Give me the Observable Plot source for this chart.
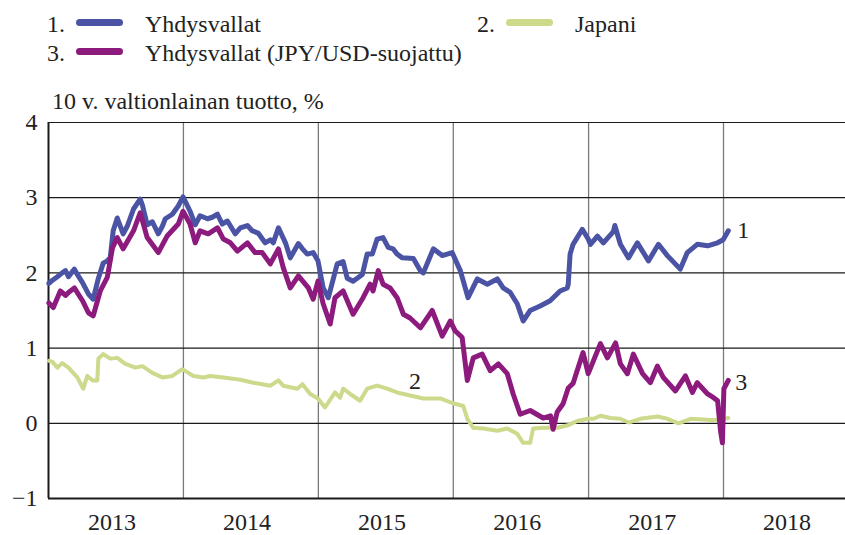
<!DOCTYPE html>
<html><head><meta charset="utf-8">
<script src="https://cdn.jsdelivr.net/npm/d3@7"></script>
<script src="https://cdn.jsdelivr.net/npm/@observablehq/plot@0.6"></script>
<style>
body{margin:0;background:#fff;font-family:"Liberation Serif",serif;color:#222}
#wrap{position:relative;width:845px;height:535px}
.lg{position:absolute;font-size:24px;line-height:1;white-space:nowrap}
.sw{position:absolute;height:7px;border-radius:4px}
#chart{position:absolute;left:0;top:110px}
</style></head><body>
<div id="wrap"><div id="legend"></div><div id="chart"></div></div>
<script>
// ---- data ----
const legendNums = ["1.", "2.", "3."];
const legendLabels = ["Yhdysvallat", "Japani", "Yhdysvallat (JPY/USD-suojattu)"];
const seriesColors = ["#4b54a4", "#cdd98b", "#8d1a7d"];
const yAxisTitle = "10 v. valtionlainan tuotto, %";
const yTicks = [-1, 0, 1, 2, 3, 4];
const years = [2013, 2014, 2015, 2016, 2017, 2018];

const usYield = [
["2013-01-02",1.86],["2013-01-11",1.90],["2013-01-25",1.95],["2013-02-07",2.00],["2013-02-16",2.03],["2013-02-24",1.95],["2013-03-12",2.05],["2013-03-20",1.98],["2013-04-03",1.87],["2013-04-19",1.72],["2013-05-02",1.65],["2013-05-16",1.93],["2013-05-29",2.13],["2013-06-09",2.16],["2013-06-17",2.20],["2013-06-25",2.56],["2013-07-06",2.73],["2013-07-22",2.52],["2013-08-02",2.62],["2013-08-19",2.85],["2013-09-06",2.98],["2013-09-12",2.90],["2013-09-25",2.64],["2013-10-09",2.68],["2013-10-25",2.52],["2013-11-05",2.62],["2013-11-13",2.72],["2013-12-02",2.78],["2013-12-18",2.89],["2013-12-31",3.01],
["2014-01-19",2.82],["2014-02-02",2.64],["2014-02-15",2.76],["2014-03-07",2.72],["2014-03-20",2.74],["2014-04-03",2.78],["2014-04-16",2.65],["2014-04-30",2.69],["2014-05-21",2.52],["2014-06-04",2.60],["2014-06-23",2.63],["2014-07-06",2.56],["2014-07-22",2.53],["2014-08-10",2.40],["2014-08-24",2.44],["2014-09-01",2.40],["2014-09-15",2.60],["2014-10-04",2.40],["2014-10-17",2.20],["2014-11-08",2.39],["2014-11-19",2.32],["2014-12-02",2.25],["2014-12-18",2.27],["2014-12-31",2.16],
["2015-01-14",1.80],["2015-01-28",1.67],["2015-02-21",2.12],["2015-03-09",2.15],["2015-03-20",1.93],["2015-04-05",1.89],["2015-04-30",1.98],["2015-05-13",2.25],["2015-05-27",2.25],["2015-06-09",2.45],["2015-06-25",2.47],["2015-07-09",2.34],["2015-07-22",2.32],["2015-08-02",2.25],["2015-08-16",2.20],["2015-09-15",2.19],["2015-10-04",2.03],["2015-10-12",2.00],["2015-11-08",2.32],["2015-12-02",2.23],["2015-12-29",2.27],
["2016-01-20",2.03],["2016-02-10",1.67],["2016-03-06",1.92],["2016-04-02",1.85],["2016-04-29",1.92],["2016-05-15",1.80],["2016-06-03",1.74],["2016-06-22",1.59],["2016-07-08",1.36],["2016-07-27",1.50],["2016-08-23",1.56],["2016-09-19",1.63],["2016-10-16",1.76],["2016-11-04",1.80],["2016-11-07",1.85],["2016-11-12",2.25],["2016-11-20",2.38],["2016-12-15",2.58],["2016-12-31",2.45],
["2017-01-06",2.38],["2017-01-25",2.49],["2017-02-10",2.40],["2017-03-09",2.55],["2017-03-13",2.63],["2017-03-28",2.38],["2017-04-19",2.20],["2017-05-13",2.40],["2017-06-12",2.16],["2017-07-09",2.38],["2017-08-02",2.23],["2017-09-06",2.05],["2017-09-25",2.27],["2017-10-22",2.38],["2017-11-19",2.36],["2017-12-16",2.40],["2017-12-31",2.44],["2018-01-14",2.56]
];

const jpYield = [
["2013-01-02",0.83],["2013-01-11",0.82],["2013-01-25",0.74],["2013-02-07",0.80],["2013-02-24",0.74],["2013-03-20",0.61],["2013-04-05",0.46],["2013-04-16",0.63],["2013-04-30",0.57],["2013-05-13",0.57],["2013-05-16",0.86],["2013-05-29",0.92],["2013-06-17",0.86],["2013-07-06",0.87],["2013-07-28",0.79],["2013-08-24",0.74],["2013-09-12",0.76],["2013-10-09",0.67],["2013-11-05",0.61],["2013-12-02",0.63],["2013-12-29",0.72],
["2014-01-28",0.63],["2014-02-24",0.61],["2014-03-15",0.63],["2014-04-19",0.61],["2014-06-04",0.58],["2014-07-09",0.54],["2014-08-24",0.50],["2014-09-15",0.57],["2014-09-28",0.50],["2014-11-05",0.46],["2014-11-19",0.52],["2014-12-10",0.39],["2014-12-31",0.33],
["2015-01-19",0.21],["2015-02-15",0.41],["2015-03-01",0.34],["2015-03-09",0.46],["2015-03-28",0.39],["2015-04-24",0.30],["2015-05-13",0.46],["2015-06-09",0.50],["2015-07-06",0.46],["2015-08-02",0.41],["2015-09-06",0.37],["2015-10-12",0.33],["2015-11-27",0.33],["2015-12-29",0.27],
["2016-01-28",0.23],["2016-02-08",0.06],["2016-02-24",-0.06],["2016-03-22",-0.07],["2016-04-29",-0.10],["2016-05-26",-0.07],["2016-06-22",-0.14],["2016-07-08",-0.26],["2016-07-27",-0.26],["2016-08-04",-0.07],["2016-08-31",-0.06],["2016-10-08",-0.06],["2016-11-04",-0.03],["2016-12-01",0.03],["2016-12-31",0.06],
["2017-01-14",0.06],["2017-02-02",0.10],["2017-03-01",0.07],["2017-03-28",0.06],["2017-04-19",0.01],["2017-05-21",0.06],["2017-07-06",0.09],["2017-08-02",0.06],["2017-09-01",0.00],["2017-10-04",0.06],["2017-11-08",0.05],["2017-12-05",0.04],["2018-01-14",0.07]
];

const usHedged = [
["2013-01-02",1.60],["2013-01-14",1.54],["2013-02-02",1.76],["2013-02-16",1.70],["2013-02-24",1.74],["2013-03-12",1.80],["2013-04-03",1.63],["2013-04-19",1.47],["2013-05-02",1.43],["2013-05-21",1.76],["2013-06-09",1.94],["2013-06-23",2.33],["2013-07-06",2.47],["2013-07-22",2.32],["2013-08-19",2.56],["2013-09-06",2.80],["2013-09-25",2.47],["2013-10-25",2.27],["2013-11-18",2.49],["2013-12-18",2.65],["2013-12-31",2.82],
["2014-01-19",2.65],["2014-02-02",2.40],["2014-02-15",2.56],["2014-03-09",2.52],["2014-04-03",2.60],["2014-04-19",2.45],["2014-05-08",2.40],["2014-05-27",2.29],["2014-06-23",2.40],["2014-07-14",2.27],["2014-08-02",2.27],["2014-08-24",2.12],["2014-09-15",2.32],["2014-09-28",2.07],["2014-10-17",1.80],["2014-11-08",1.96],["2014-12-05",1.80],["2014-12-18",1.65],["2014-12-31",1.89],
["2015-01-14",1.59],["2015-02-02",1.32],["2015-02-15",1.67],["2015-03-09",1.76],["2015-04-05",1.45],["2015-05-02",1.67],["2015-05-21",1.85],["2015-05-29",1.76],["2015-06-12",2.03],["2015-06-25",1.85],["2015-07-14",1.80],["2015-08-02",1.67],["2015-08-19",1.45],["2015-09-06",1.40],["2015-10-04",1.27],["2015-11-05",1.50],["2015-12-02",1.16],["2015-12-24",1.36],
["2016-01-06",1.23],["2016-01-25",1.14],["2016-02-08",0.57],["2016-02-24",0.87],["2016-03-19",0.92],["2016-04-10",0.70],["2016-05-02",0.79],["2016-05-26",0.66],["2016-06-11",0.39],["2016-06-30",0.12],["2016-07-27",0.17],["2016-08-31",0.07],["2016-09-20",0.10],["2016-09-27",-0.08],["2016-10-08",0.15],["2016-10-24",0.26],["2016-11-07",0.47],["2016-11-20",0.53],["2016-12-01",0.70],["2016-12-17",0.94],["2016-12-31",0.66],
["2017-01-14",0.83],["2017-02-02",1.06],["2017-02-21",0.87],["2017-03-15",1.07],["2017-03-28",0.79],["2017-04-16",0.66],["2017-05-02",0.92],["2017-05-27",0.66],["2017-06-17",0.54],["2017-07-06",0.76],["2017-07-22",0.61],["2017-08-24",0.43],["2017-09-20",0.63],["2017-10-09",0.41],["2017-10-22",0.54],["2017-11-19",0.39],["2017-12-05",0.34],["2017-12-16",0.30],["2017-12-24",-0.10],["2017-12-29",-0.26],["2018-01-02",0.46],["2018-01-14",0.57]
];

// ---- legend (HTML above the plot) ----
const legend = document.getElementById("legend");
const legendPos = [[47, 12], [477, 12], [47, 41]];
legendNums.forEach((n, i) => {
  const [lx, ly] = legendPos[i];
  const num = document.createElement("div");
  num.className = "lg"; num.style.left = lx + "px"; num.style.top = ly + "px";
  num.textContent = n;
  const sw = document.createElement("div");
  sw.className = "sw"; sw.style.left = (lx + 29) + "px"; sw.style.top = (ly + 7) + "px";
  sw.style.width = "47px"; sw.style.background = seriesColors[i];
  const lab = document.createElement("div");
  lab.className = "lg"; lab.style.left = (lx + 98) + "px"; lab.style.top = ly + "px";
  lab.textContent = legendLabels[i];
  legend.append(num, sw, lab);
});
const ttl = document.createElement("div");
ttl.className = "lg"; ttl.style.left = "52px"; ttl.style.top = "89px";
ttl.textContent = yAxisTitle;
legend.append(ttl);

// ---- chart ----
const parse = d3.utcParse("%Y-%m-%d");
const toRows = (arr) => arr.map(([d, v]) => ({date: parse(d), value: v}));
const us = toRows(usYield), jp = toRows(jpYield), hedged = toRows(usHedged);
const yearStarts = years.map(y => new Date(Date.UTC(y, 0, 1)));
const midYears = years.map(y => new Date(Date.UTC(y, 5, 22)));
const lastUs = us[us.length - 1], lastH = hedged[hedged.length - 1];
const jpLabelPt = jp.find(d => +d.date === +parse("2015-09-06"));
const fmtY = d => d < 0 ? "\u2212" + Math.abs(d) : String(d);

const chart = Plot.plot({
  width: 845,
  height: 425,
  marginLeft: 48,
  marginRight: 0,
  marginTop: 12,
  marginBottom: 37,
  style: {fontFamily: '"Liberation Serif", serif', fontSize: "24px", color: "#222", background: "transparent", overflow: "visible"},
  x: {type: "utc", domain: [new Date(Date.UTC(2013, 0, 1)), new Date(Date.UTC(2018, 10, 27))]},
  y: {domain: [-1, 4]},
  marks: [
    Plot.ruleX(yearStarts.slice(1), {stroke: "#7a7a7a", strokeWidth: 1.3}),
    Plot.ruleY(yTicks.slice(1), {stroke: "#1a1a1a", strokeWidth: 1.2}),
    Plot.ruleX([yearStarts[0]], {stroke: "#1a1a1a", strokeWidth: 2}),
    Plot.ruleY([yTicks[0]], {stroke: "#1a1a1a", strokeWidth: 2}),
    Plot.axisY({ticks: yTicks, tickSize: 0, tickPadding: 11, tickFormat: fmtY, label: null}),
    Plot.axisX({ticks: midYears, tickSize: 0, tickPadding: 14, tickFormat: d3.utcFormat("%Y"), label: null}),
    Plot.line(jp, {x: "date", y: "value", stroke: seriesColors[1], strokeWidth: 4, strokeLinejoin: "round", strokeLinecap: "round"}),
    Plot.line(us, {x: "date", y: "value", stroke: seriesColors[0], strokeWidth: 5, strokeLinejoin: "round", strokeLinecap: "round"}),
    Plot.line(hedged, {x: "date", y: "value", stroke: seriesColors[2], strokeWidth: 5, strokeLinejoin: "round", strokeLinecap: "round"}),
    Plot.text([lastUs], {x: "date", y: "value", text: () => "1", dx: 9, textAnchor: "start", fill: "#222", fontSize: 24}),
    Plot.text([lastH], {x: "date", y: "value", text: () => "3", dx: 7, dy: 2, textAnchor: "start", fill: "#222", fontSize: 24}),
    Plot.text([jpLabelPt], {x: "date", y: "value", text: () => "2", dx: 5, dy: -14, fill: "#222", fontSize: 24})
  ]
});
document.getElementById("chart").append(chart);
</script>
</body></html>
